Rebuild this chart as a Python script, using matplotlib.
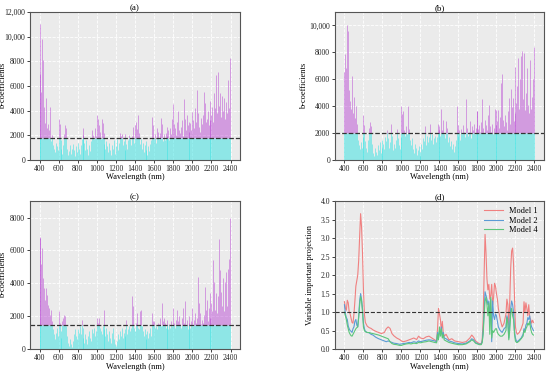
import numpy as np
import matplotlib.pyplot as plt

plt.rcParams['font.family'] = ['Liberation Serif', 'DejaVu Serif']

# =========================
# Dados - coeficientes b (passo de 10 nm, 400-2390 nm)
# =========================
wl = np.arange(400, 2400, 10)

coef_a = [
    11000, 7000, 5500, 9800, 8100, 4300, 3000, 5000, 2600, 2900, 2400, 4300, 1500, 2000, 1200, 900, 600, 1400, 1100, 800,
    3300, 2900, 1600, 900, 500, 1200, 2100, 2800, 2600, 900, 400, 700, 1200, 500, 900, 1300, 800, 300, 1100, 600,
    1400, 900, 500, 1200, 1700, 2000, 2600, 1400, 800, 1600, 900, 400, 1200, 700, 1500, 2400, 2000, 1700, 2600, 1900,
    3600, 3300, 2800, 2300, 1700, 3300, 3000, 2200, 1300, 900, 1500, 1100, 600, 1400, 800, 400, 1200, 900, 1600, 500,
    1100, 1700, 800, 1400, 2200, 1900, 2100, 1200, 1500, 800, 2100, 1300, 900, 1600, 2000, 1700, 1200, 1900, 2700, 1400,
    2800, 3100, 2500, 3600, 2200, 1300, 1700, 900, 1400, 600, 1200, 800, 1500, 400, 1100, 700, 1300, 1600, 3500, 2800,
    1700, 2100, 1400, 2600, 2300, 1700, 2200, 3400, 2900, 1500, 2100, 1600, 2200, 2700, 1900, 2400, 1600, 2600, 2100, 3300,
    4500, 2900, 2600, 2000, 3100, 4000, 2400, 2200, 2700, 3200, 1900, 4900, 3300, 2400, 3600, 2800, 2300, 3100, 3000, 2400,
    3900, 3200, 2600, 4200, 3100, 5700, 3800, 2700, 2300, 3400, 2900, 3600, 5500, 4600, 3100, 3300, 4000, 2800, 3200, 4800,
    3600, 4300, 3100, 5400, 4200, 6900, 3800, 7100, 4400, 5400, 3500, 5200, 4000, 5000, 3300, 4700, 3800, 6500, 4200, 8300,
]

coef_b = [
    6500, 7900, 6850, 10050, 9560, 5200, 4400, 3800, 6200, 3500, 4700, 3100, 4000, 2700, 1500, 1100, 800, 1300, 900, 1700,
    3350, 2600, 1400, 900, 600, 1500, 2400, 2850, 2500, 1200, 500, 300, 900, 600, 400, 1100, 700, 1300, 500, 900,
    1500, 1200, 800, 1700, 1400, 2200, 1600, 900, 1300, 2700, 1800, 700, 1200, 900, 1500, 2300, 1600, 1100, 800, 1700,
    4000, 3400, 3600, 2200, 1800, 2500, 1900, 4000, 2300, 1500, 1100, 1600, 800, 500, 1200, 900, 400, 700, 1000, 300,
    600, 1200, 800, 1600, 1400, 2500, 1100, 1800, 1300, 1700, 2700, 1500, 1900, 1200, 1600, 1800, 1300, 1700, 2700, 2200,
    2500, 1800, 3800, 2200, 3000, 1900, 1600, 2900, 2400, 1300, 1700, 1000, 1400, 800, 1200, 600, 1000, 1500, 4000, 2600,
    1800, 2200, 1500, 2300, 1900, 2600, 2100, 1700, 4500, 2400, 1800, 2100, 2900, 1600, 2500, 2200, 2700, 1900, 2400, 3600,
    3600, 2300, 2600, 2100, 2800, 4500, 2400, 2000, 3000, 2600, 2200, 3300, 4050, 2500, 2100, 2700, 1900, 2400, 3800, 2600,
    3700, 2900, 3700, 2400, 3200, 5700, 6400, 3000, 2500, 3300, 2800, 2200, 3600, 4600, 2700, 5300, 3900, 4600, 2900, 3500,
    6900, 4200, 5500, 7600, 3800, 6000, 7700, 8100, 4500, 7950, 3700, 5000, 6850, 4100, 3500, 7400, 3800, 4700, 6000, 8400,
]

coef_c = [
    6740, 6800, 5200, 6130, 4300, 3700, 3000, 3700, 3300, 2700, 2500, 2100, 2400, 1700, 1200, 900, 600, 1000, 1300, 800,
    2300, 1600, 1100, 700, 1700, 1900, 2100, 2000, 1400, 800, 400, 200, 600, 300, 100, 500, 900, 1200, 800, 600,
    1200, 1000, 1400, 900, 1800, 1300, 700, 400, 900, 600, 300, 800, 1100, 700, 500, 1200, 1000, 1300, 800, 1100,
    1900, 1600, 1900, 1300, 1100, 900, 1400, 2400, 1200, 800, 1300, 900, 500, 1100, 700, 400, 1000, 1300, 600, 300,
    200, 500, 900, 600, 1100, 800, 1300, 700, 1000, 1200, 800, 1800, 900, 1200, 1400, 1100, 1300, 3200, 2600, 1300,
    1100, 1600, 2200, 1300, 1200, 2300, 2400, 1400, 1100, 800, 1200, 600, 900, 1100, 700, 1000, 1300, 800, 2200, 1700,
    1700, 1300, 1400, 1200, 1600, 1500, 1900, 1400, 2800, 1700, 1900, 1600, 1300, 1800, 1400, 1200, 1500, 1300, 1700, 1400,
    2500, 1600, 1300, 1800, 2400, 1700, 2000, 1500, 1300, 1900, 2500, 1600, 2900, 1400, 1800, 1200, 2000, 1600, 1300, 1700,
    2500, 1400, 1800, 2200, 1600, 1900, 4400, 2800, 2200, 1500, 1800, 1600, 2100, 3800, 2400, 3000, 1700, 2500, 3400, 1900,
    2800, 2300, 5400, 4100, 2400, 3400, 2200, 3200, 6700, 4800, 3500, 2600, 4300, 2300, 4100, 4700, 2600, 4900, 5500, 8000,
]

limiar = {'a': 1800, 'b': 2000, 'c': 1450}

# =========================
# Dados - VIP
# =========================
vip_wl = [
    400, 410, 420, 430, 440, 450, 460, 470, 480, 490,
    500, 510, 520, 530, 540, 550, 560, 570, 580, 590,
    600, 610, 620, 640, 660, 680, 700, 730, 760, 790,
    820, 840, 860, 880, 900, 920, 950, 980, 1000, 1020,
    1050, 1080, 1100, 1130, 1160, 1180, 1200, 1230, 1260, 1290,
    1320, 1350, 1370, 1380, 1390, 1400, 1410, 1420, 1430, 1440,
    1450, 1470, 1500, 1530, 1560, 1600, 1640, 1680, 1720, 1740,
    1760, 1780, 1800, 1820, 1840, 1850, 1860, 1870, 1880, 1890,
    1900, 1910, 1920, 1930, 1940, 1950, 1960, 1970, 1980, 1990,
    2000, 2010, 2020, 2040, 2060, 2080, 2100, 2110, 2120, 2130,
    2140, 2150, 2160, 2170, 2180, 2190, 2200, 2210, 2220, 2240,
    2260, 2280, 2290, 2300, 2310, 2320, 2330, 2340, 2350, 2360,
    2370, 2380, 2390,
]

vip_m1 = [
    1.28, 1.10, 1.05, 1.32, 1.25, 1.00, 0.95, 0.83, 0.72, 0.70,
    0.95, 1.30, 1.70, 1.85, 2.00, 2.40, 3.05, 3.66, 3.30, 2.60,
    1.60, 0.95, 0.72, 0.62, 0.58, 0.56, 0.52, 0.48, 0.45, 0.42,
    0.45, 0.55, 0.60, 0.56, 0.42, 0.36, 0.30, 0.26, 0.22, 0.20,
    0.22, 0.25, 0.27, 0.30, 0.26, 0.35, 0.30, 0.28, 0.33, 0.35,
    0.30, 0.25, 0.22, 0.55, 1.10, 0.95, 0.80, 0.50, 0.75, 0.45,
    0.35, 0.40, 0.25, 0.28, 0.22, 0.20, 0.18, 0.20, 0.30, 0.38,
    0.32, 0.22, 0.18, 0.15, 0.15, 0.25, 0.80, 2.00, 3.10, 2.60,
    1.90, 1.60, 1.75, 1.35, 1.45, 1.75, 1.20, 1.40, 1.78, 1.70,
    1.50, 1.35, 1.10, 0.80, 0.60, 0.70, 0.95, 1.35, 1.20, 0.65,
    1.30, 2.20, 2.65, 2.73, 2.30, 1.40, 0.60, 0.45, 0.40, 0.45,
    0.55, 0.70, 1.28, 1.00, 1.25, 1.10, 0.90, 1.20, 0.85, 0.80,
    0.70, 0.78, 0.72,
]

vip_m2 = [
    1.20, 0.95, 0.85, 0.80, 0.62, 0.55, 0.50, 0.48, 0.45, 0.55,
    0.60, 0.75, 0.80, 0.65, 0.60, 0.90, 1.30, 1.50, 1.35, 1.10,
    0.70, 0.55, 0.48, 0.45, 0.44, 0.40, 0.38, 0.32, 0.28, 0.25,
    0.22, 0.20, 0.22, 0.20, 0.18, 0.16, 0.15, 0.13, 0.14, 0.15,
    0.16, 0.18, 0.17, 0.20, 0.18, 0.22, 0.20, 0.22, 0.24, 0.25,
    0.24, 0.22, 0.20, 0.45, 0.30, 0.50, 0.40, 0.60, 0.35, 0.45,
    0.30, 0.28, 0.22, 0.20, 0.17, 0.15, 0.14, 0.16, 0.22, 0.28,
    0.25, 0.18, 0.15, 0.13, 0.14, 0.20, 0.50, 1.00, 1.55, 1.45,
    1.35, 1.20, 1.30, 0.80, 1.35, 0.20, 1.30, 0.90, 0.80, 0.95,
    0.90, 0.75, 0.60, 0.50, 0.45, 0.55, 0.60, 0.90, 0.80, 0.30,
    0.70, 1.10, 1.30, 1.20, 1.00, 0.50, 0.30, 0.22, 0.20, 0.25,
    0.30, 0.40, 0.55, 0.50, 0.65, 0.70, 0.85, 0.80, 0.90, 0.70,
    0.60, 0.55, 0.50,
]

vip_m4 = [
    1.00, 0.90, 0.80, 0.65, 0.55, 0.45, 0.40, 0.36, 0.35, 0.40,
    0.45, 0.50, 0.55, 0.58, 0.60, 0.85, 1.20, 1.42, 1.30, 1.00,
    0.60, 0.50, 0.47, 0.45, 0.45, 0.43, 0.42, 0.40, 0.38, 0.35,
    0.32, 0.30, 0.28, 0.20, 0.15, 0.13, 0.12, 0.10, 0.10, 0.12,
    0.14, 0.15, 0.14, 0.16, 0.15, 0.18, 0.17, 0.19, 0.20, 0.22,
    0.20, 0.18, 0.17, 0.40, 0.25, 0.60, 0.35, 0.55, 0.30, 0.40,
    0.25, 0.22, 0.18, 0.16, 0.14, 0.12, 0.12, 0.14, 0.20, 0.25,
    0.22, 0.16, 0.14, 0.12, 0.12, 0.18, 0.40, 0.90, 1.30, 1.40,
    1.20, 0.90, 1.25, 0.40, 1.40, 0.30, 0.50, 0.45, 0.50, 0.55,
    0.55, 0.45, 0.40, 0.35, 0.35, 0.40, 0.50, 0.85, 0.70, 0.25,
    0.50, 0.95, 1.10, 0.90, 0.80, 0.40, 0.22, 0.18, 0.18, 0.22,
    0.28, 0.35, 0.50, 0.45, 0.55, 0.60, 0.70, 0.65, 0.75, 0.55,
    0.45, 0.40, 0.38,
]

# =========================
# Figura
# =========================
fig = plt.figure(figsize=(5.5, 3.71), dpi=100)
pos = {
    'a': [0.0545, 0.569, 0.382, 0.399],
    'b': [0.609, 0.569, 0.380, 0.399],
    'c': [0.0545, 0.059, 0.382, 0.399],
    'd': [0.609, 0.059, 0.380, 0.399],
}


def estilo(ax, titulo):
    ax.set_facecolor('#ebebeb')
    ax.grid(True, color='white', linestyle='--', linewidth=0.6)
    ax.set_axisbelow(True)
    for s in ax.spines.values():
        s.set_color('#555555')
        s.set_linewidth(0.8)
    ax.tick_params(labelsize=5.5, length=2, width=0.6, pad=1.5, colors='#222222')
    ax.set_xlim(300, 2500)
    ax.set_xticks(range(400, 2401, 200))
    ax.set_xlabel('Wavelength (nm)', fontsize=6, labelpad=0.5)
    ax.set_title(titulo, fontsize=6.5, pad=0.5)


def fmt(v):
    return f'{v:,}' if v >= 10000 else str(v)


def painel_coef(ax, valores, thr, ymax, yticks, titulo):
    v = np.array(valores)
    ax.vlines(wl, 0, np.minimum(v, thr), color='#3fe3e3', linewidth=0.55, alpha=0.7)
    m = v > thr
    ax.vlines(wl[m], thr, v[m], color='#b030d0', linewidth=0.55, alpha=0.55)
    ax.axhline(thr, color='#333333', linestyle='--', linewidth=0.9)
    estilo(ax, titulo)
    ax.set_ylim(0, ymax)
    ax.set_yticks(yticks)
    ax.set_yticklabels([fmt(t) for t in yticks])
    ax.set_ylabel('b-coefficients', fontsize=6)
    ax.yaxis.set_label_coords(-0.11, 0.5)


ax_a = fig.add_axes(pos['a'])
painel_coef(ax_a, coef_a, limiar['a'], 12000, list(range(0, 12001, 2000)), '(a)')
ax_b = fig.add_axes(pos['b'])
painel_coef(ax_b, coef_b, limiar['b'], 11000, list(range(0, 10001, 2000)), '(b)')
ax_b.yaxis.set_label_coords(-0.13, 0.5)
ax_c = fig.add_axes(pos['c'])
painel_coef(ax_c, coef_c, limiar['c'], 9000, list(range(0, 8001, 2000)), '(c)')

ax_d = fig.add_axes(pos['d'])
ax_d.plot(vip_wl, vip_m1, color='#f08080', linewidth=0.8, label='Model 1')
ax_d.plot(vip_wl, vip_m2, color='#5b9bd5', linewidth=0.8, label='Model 2')
ax_d.plot(vip_wl, vip_m4, color='#5cc67a', linewidth=0.8, label='Model 4')
ax_d.axhline(1.0, color='#333333', linestyle='--', linewidth=0.8)
estilo(ax_d, '(d)')
ax_d.set_ylim(0, 4)
ax_d.set_yticks(np.arange(0, 4.01, 0.5))
ax_d.set_yticklabels([f'{t:.1f}' for t in np.arange(0, 4.01, 0.5)])
ax_d.set_ylabel('Variable important projection', fontsize=6)
ax_d.yaxis.set_label_coords(-0.1, 0.5)
ax_d.legend(loc='upper right', frameon=False, fontsize=6, handlelength=2.2,
            labelspacing=0.2, borderaxespad=0.3)

fig.savefig('out.png', dpi=100)
